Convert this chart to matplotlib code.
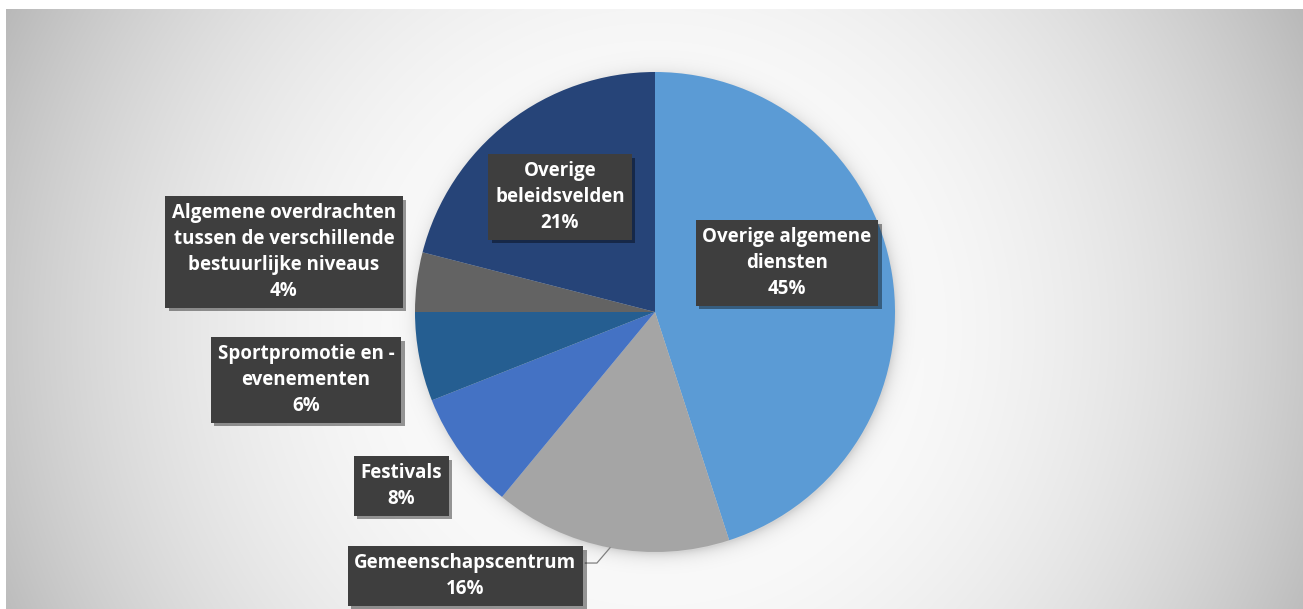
import numpy as np
import matplotlib
matplotlib.use("Agg")
import matplotlib.pyplot as plt
import matplotlib.patheffects as pe

# Share of spending per policy domain (%)
categories = [
    "Overige algemene\ndiensten",
    "Gemeenschapscentrum",
    "Festivals",
    "Sportpromotie en -\nevenementen",
    "Algemene overdrachten\ntussen de verschillende\nbestuurlijke niveaus",
    "Overige\nbeleidsvelden",
]
shares = [45, 16, 8, 6, 4, 21]

colors = ["#5B9BD5", "#A5A5A5", "#4472C4", "#255E91", "#636363", "#264478"]
# label centres in pie units (radius = 1)
label_pos = [
    (0.55, 0.205),
    (-0.79, -1.10),
    (-1.058, -0.725),
    (-1.454, -0.283),
    (-1.546, 0.25),
    (-0.396, 0.479),
]

W, H = 1303, 609
PIE_CX, PIE_CY, PIE_R = 655, 312, 240

fig = plt.figure(figsize=(W / 100, H / 100), dpi=100)
fig.patch.set_facecolor("white")

# radial grey backdrop with a soft shadow around the pie
bg = fig.add_axes([6 / W, 0, (W - 6) / W, (H - 9) / H])
xs = np.arange(6, W) + 0.5
ys = np.arange(9, H) + 0.5
X, Y = np.meshgrid(xs, ys)
d = np.hypot((X - PIE_CX) / 700, (Y - 330) / 700)
shade = 255 - 65 * d ** 2.4
r = np.hypot(X - PIE_CX - 2, Y - PIE_CY - 3)
shade -= 38 * np.exp(-np.clip(r - PIE_R + 2, 0, None) / 7.0)
shade = np.clip(shade, 0, 255) / 255
bg.imshow(np.dstack([shade] * 3), aspect="auto", interpolation="bilinear")
bg.axis("off")

ax = fig.add_axes([(PIE_CX - PIE_R) / W, (H - PIE_CY - PIE_R) / H,
                   2 * PIE_R / W, 2 * PIE_R / H])
wedges, _ = ax.pie(shares, colors=colors, startangle=90, counterclock=False,
                   radius=1, wedgeprops=dict(linewidth=0))
ax.set_xlim(-1, 1)
ax.set_ylim(-1, 1)
ax.set_aspect("equal")
ax.axis("off")

box_shadow = [pe.SimplePatchShadow(offset=(2.5, -2.5), shadow_rgbFace="black", alpha=0.4),
              pe.Normal()]

for name, val, (lx, ly) in zip(categories, shares, label_pos):
    t = ax.text(lx, ly, f"{name}\n{val}%", ha="center", va="center",
                color="white", fontsize=13.5, fontweight="bold", family="Open Sans",
                linespacing=1.4, zorder=5,
                bbox=dict(boxstyle="square,pad=0.36", facecolor="#3E3E3E",
                          edgecolor="none"))
    t.get_bbox_patch().set_path_effects(box_shadow)

# leader line for the Gemeenschapscentrum label
w = wedges[1]
mid = np.deg2rad((w.theta1 + w.theta2) / 2)
sx, sy = np.cos(mid), np.sin(mid)
ax.plot([sx, -0.242, -0.29], [sy, -1.046, -1.046], color="#7F7F7F",
        lw=0.9, clip_on=False, zorder=4)

fig.savefig("out.png", dpi=100)
